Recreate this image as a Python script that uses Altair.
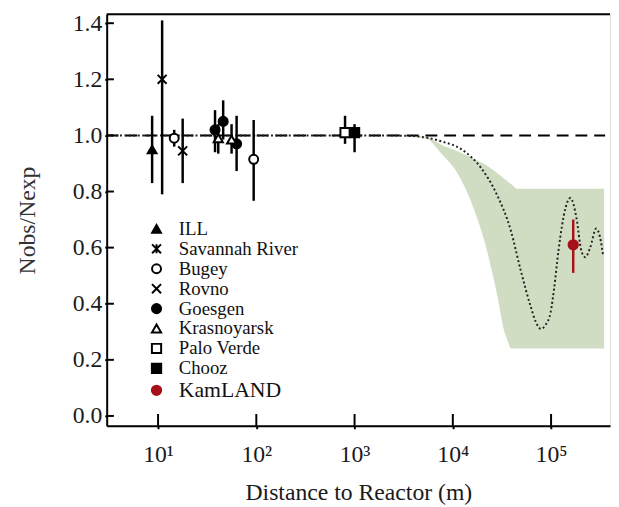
import altair as alt
import pandas as pd

# ---- data ----
exps = ["ILL", "Savannah River", "Bugey", "Rovno", "Goesgen", "Krasnoyarsk",
        "Palo Verde", "Chooz", "KamLAND"]
shapes = ["triangle-up", "M-1,-1L1,1M-1,1L1,-1M0,-1L0,1", "circle",
          "M-1,-1L1,1M-1,1L1,-1", "circle", "triangle-up", "square", "square", "circle"]
fills = ["black", "black", "white", "black", "black", "white", "white", "black", "#a8101a"]
strokes = ["black"] * 8 + ["#a8101a"]
sizes = [80, 90, 80, 80, 90, 80, 80, 90, 150]

pt_exp = ["ILL", "Savannah River", "Bugey", "Rovno", "Goesgen", "Goesgen", "Goesgen",
          "Krasnoyarsk", "Krasnoyarsk", "Bugey", "Palo Verde", "Chooz", "KamLAND"]
pt_dist = [8.7, 11, 14.6, 17.8, 38, 46, 63, 41, 56, 94, 800, 1000, 168000]
pt_val = [0.95, 1.20, 0.99, 0.945, 1.02, 1.05, 0.97, 0.99, 0.985, 0.915, 1.01, 1.01, 0.61]
pt_lo = [0.83, 0.79, 0.96, 0.83, 0.94, 0.985, 0.873, 0.935, 0.935, 0.767, 0.97, 0.94, 0.51]
pt_hi = [1.07, 1.41, 1.02, 1.06, 1.09, 1.125, 1.07, 1.04, 1.04, 1.055, 1.07, 1.04, 0.70]

band_dist = [2620, 5260, 7800, 11300, 16700, 21100, 28500, 33500, 35900, 39400, 45200, 346700]
band_lo = [1.0, 0.99, 0.932, 0.862, 0.73, 0.62, 0.425, 0.30, 0.27, 0.24, 0.24, 0.24]
band_hi = [1.0, 0.995, 0.965, 0.943, 0.915, 0.897, 0.865, 0.845, 0.837, 0.826, 0.81, 0.81]

curve_dist = [3, 2000, 3000, 4500, 7800, 12300, 19500, 28000, 39000, 49000, 62000, 70000,
              79000, 88000, 99000, 107000, 119000, 140000, 157000, 181000, 203000, 223000,
              250000, 288000, 315000, 338000]
curve_val = [1.0, 1.0, 0.999, 0.996, 0.978, 0.95, 0.883, 0.79, 0.66, 0.52, 0.39, 0.335,
             0.31, 0.325, 0.37, 0.45, 0.59, 0.74, 0.777, 0.707, 0.59, 0.566,
             0.60, 0.668, 0.637, 0.573]

xticks = [10, 100, 1000, 10000, 100000]
yticks = [0.0, 0.2, 0.4, 0.6, 0.8, 1.0, 1.2, 1.4]

# ---- frames ----
pts = pd.DataFrame({"exp": pt_exp, "dist": pt_dist, "val": pt_val, "lo": pt_lo, "hi": pt_hi})
band = pd.DataFrame({"dist": band_dist, "val": band_lo, "hi": band_hi})
curve = pd.DataFrame({"dist": curve_dist, "val": curve_val})
xt = pd.DataFrame({"dist": xticks})
yt = pd.DataFrame({"val": yticks})
hline = pd.DataFrame({"dist": [3, 355000], "val": [1.0, 1.0]})

SERIF = "Liberation Serif"
XMIN, XMAX = 3, 398000
YMIN, YMAX = -0.035, 1.432
xs = alt.Scale(type="log", domain=[XMIN, XMAX], nice=False)
ys = alt.Scale(domain=[YMIN, YMAX], nice=False, zero=False)

label_expr = ("datum.value == 10 ? '10\u00b9' : datum.value == 100 ? '10\u00b2' : "
              "datum.value == 1000 ? '10\u00b3' : datum.value == 10000 ? '10\u2074' : '10\u2075'")
xaxis = alt.Axis(values=xticks, labelExpr=label_expr, title="Distance to Reactor (m)",
                 grid=False, tickSize=3, tickWidth=2, tickColor="black",
                 domainColor="black", domainWidth=2, labelFont=SERIF, labelFontSize=24,
                 labelColor="#1a1a1a", labelPadding=14, titleFont=SERIF, titleFontSize=24,
                 titleFontWeight="normal", titleColor="#1a1a1a", titlePadding=15)
yaxis = alt.Axis(values=yticks, format=".1f", title="Nobs/Nexp", grid=False,
                 tickSize=2, tickWidth=2, tickColor="black", domainColor="black",
                 domainWidth=2, labelFont=SERIF, labelFontSize=24, labelColor="#1a1a1a",
                 labelPadding=3, titleFont=SERIF, titleFontSize=24, titleFontWeight="normal",
                 titleColor="#333333", titlePadding=33)

X = lambda: alt.X("dist:Q", scale=xs, axis=xaxis)
Y = lambda: alt.Y("val:Q", scale=ys, axis=yaxis)

band_l = alt.Chart(band).mark_area(color="#d1ddc3", opacity=1, interpolate="monotone").encode(
    x=X(), y=Y(), y2="hi:Q")

hline_l = alt.Chart(hline).mark_line(color="black", strokeWidth=2, strokeDash=[12, 7]).encode(
    x=X(), y=Y())

curve_l = alt.Chart(curve).mark_line(color="#222222", strokeWidth=2, strokeDash=[2, 2.5],
                                     interpolate="monotone").encode(x=X(), y=Y())

xtick_l = alt.Chart(xt).mark_rule(color="black", strokeWidth=2).encode(
    x=X(), y=alt.datum(YMIN), y2=alt.datum(0.007))
ytick_l = alt.Chart(yt).mark_rule(color="black", strokeWidth=2).encode(
    y=Y(), x=alt.datum(XMIN), x2=alt.datum(3.55))

top_l = alt.Chart(pd.DataFrame({"val": [YMAX]})).mark_rule(color="black", strokeWidth=2).encode(
    y=Y())

err_l = alt.Chart(pts).mark_rule(strokeWidth=2.5).encode(
    x=X(), y=alt.Y("lo:Q", scale=ys, axis=yaxis), y2="hi:Q",
    color=alt.condition(alt.datum.exp == "KamLAND", alt.value("#a8101a"), alt.value("black")))

legend = alt.Legend(orient="none", legendX=41, legendY=208, title=None, padding=0,
                    labelFont=SERIF,
                    labelFontSize=alt.ExprRef("datum.value === 'KamLAND' ? 22 : 19"),
                    labelColor="#111111",
                    symbolStrokeWidth=2, rowPadding=0.2, labelOffset=13)

pts_l = alt.Chart(pts).mark_point(opacity=1, strokeWidth=2).encode(
    x=X(), y=Y(),
    shape=alt.Shape("exp:N", scale=alt.Scale(domain=exps, range=shapes), legend=legend),
    fill=alt.Fill("exp:N", scale=alt.Scale(domain=exps, range=fills), legend=legend),
    stroke=alt.Stroke("exp:N", scale=alt.Scale(domain=exps, range=strokes), legend=legend),
    size=alt.Size("exp:N", scale=alt.Scale(domain=exps, range=sizes), legend=legend),
)

chart = alt.layer(band_l, hline_l, curve_l, xtick_l, ytick_l, top_l, err_l, pts_l).properties(
    width=510, height=417,
    padding={"left": 100, "top": 3, "right": 1, "bottom": 79},
    autosize=alt.AutoSizeParams(type="none"),
).configure_view(stroke=None).configure(background="white")

chart.save("out.html", embed_options={"renderer": "svg", "actions": False})
